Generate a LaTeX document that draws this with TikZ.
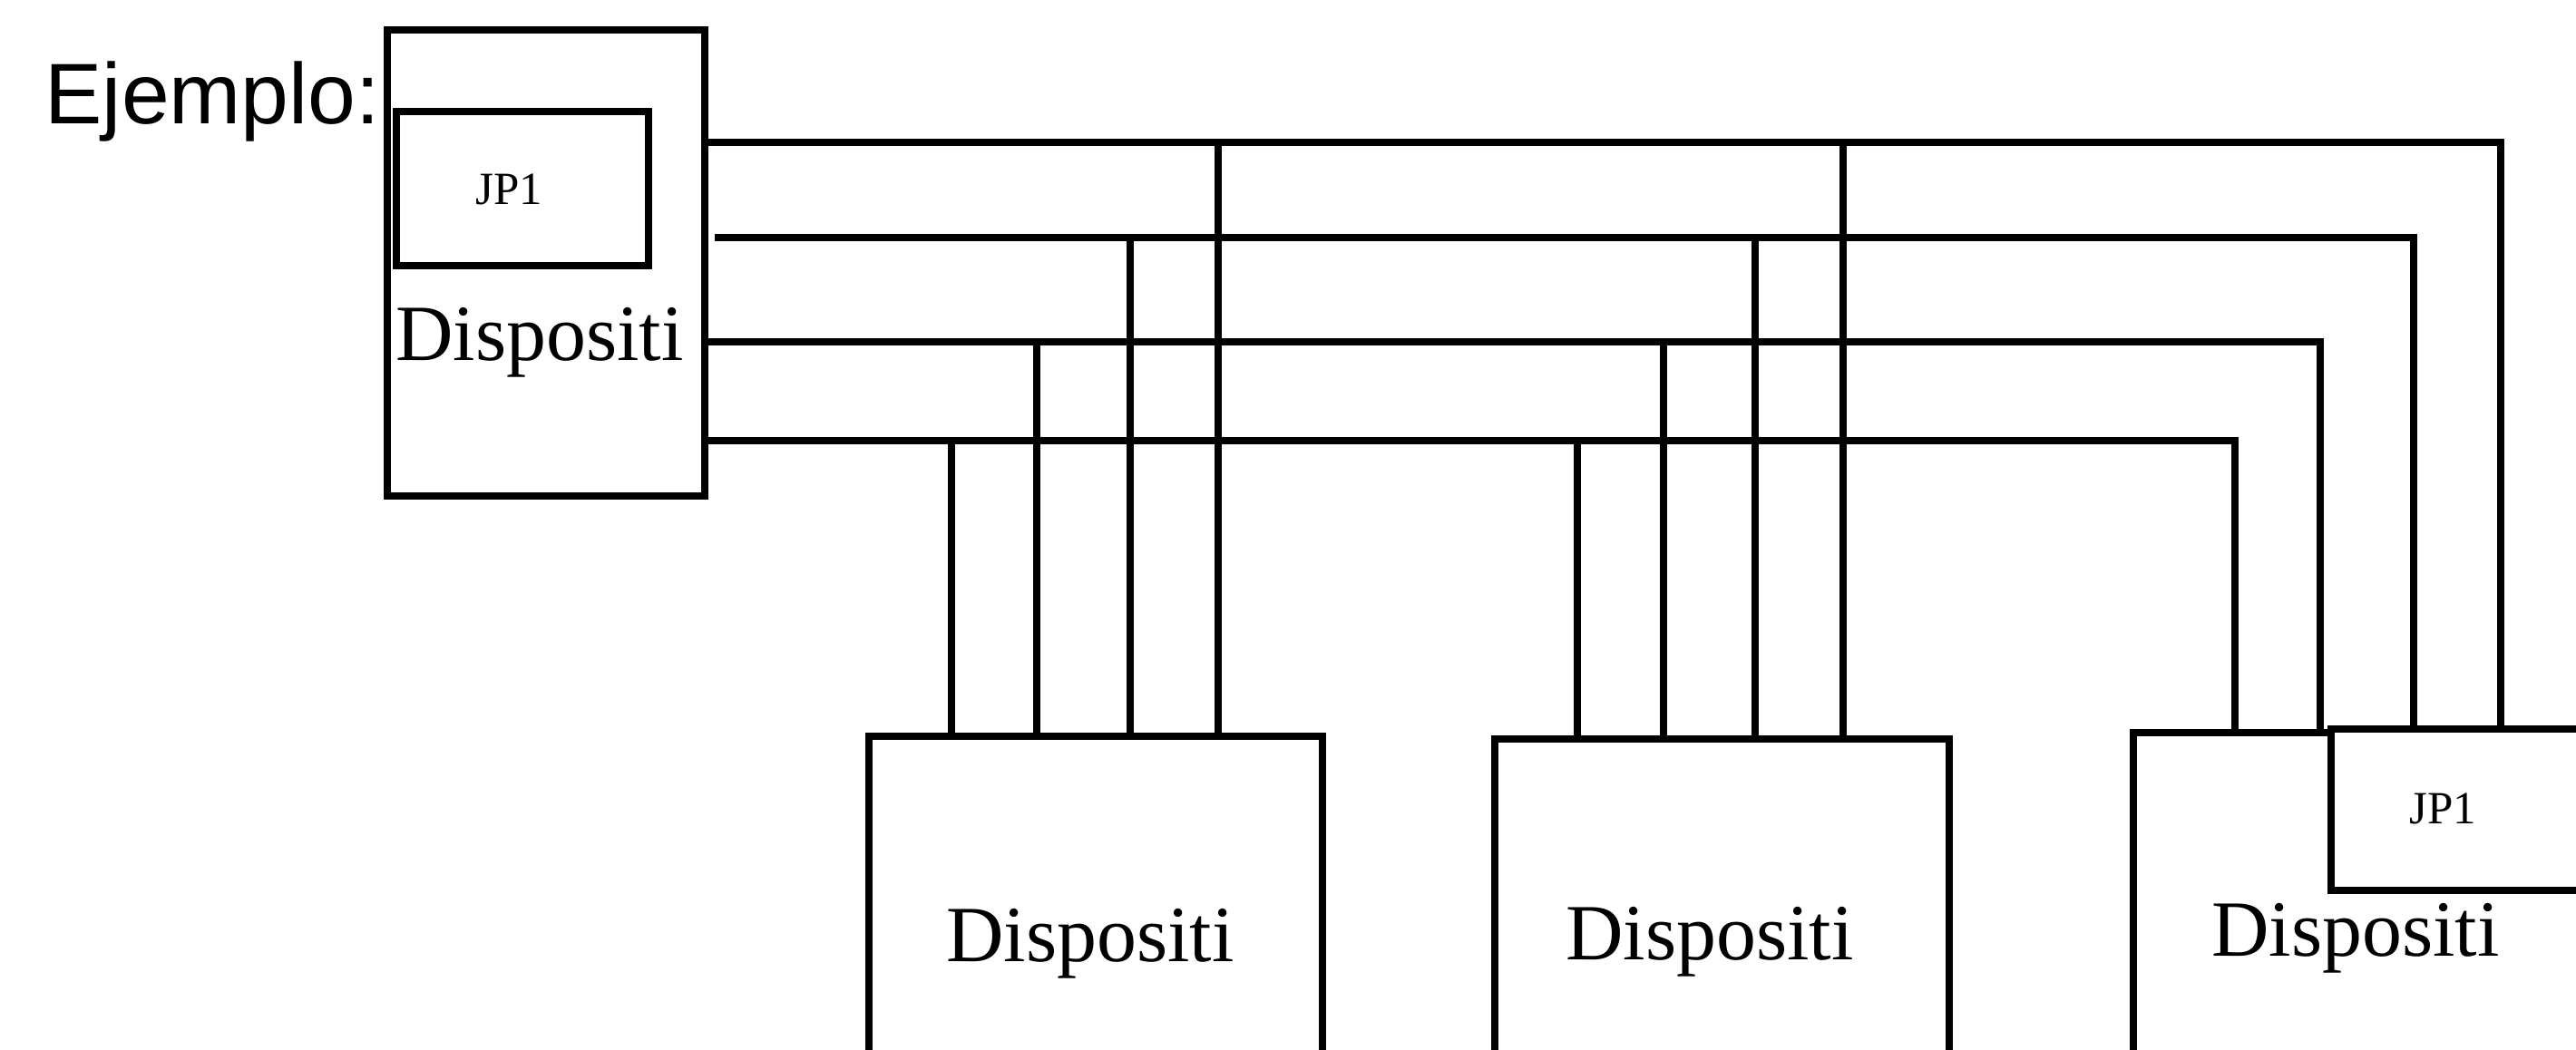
\documentclass[tikz,border=0pt]{standalone}
\usepackage{fontspec}
\setmainfont{Liberation Serif}
\newfontfamily\arialfont{Liberation Sans}

\begin{document}
\begin{tikzpicture}[
  box/.style = {draw, line width = 2.5pt, inner sep = 0pt, fill = white},
  wire/.style = {line width = 2.3pt},
  devtext/.style = {anchor = base, inner sep = 0pt, font = \fontsize{25}{30}\selectfont},
  jptext/.style = {anchor = base, inner sep = 0pt, font = \fontsize{14.5}{17}\selectfont}]
\useasboundingbox (0,0) rectangle (28.4,-11.57);
\clip (0,0) rectangle (28.4,-11.57);
\fill [white] (0,0) rectangle (28.4,-11.57);
\node [anchor = base west, inner sep = 0pt, font = \arialfont\fontsize{27}{32}\selectfont] (title) at (0.49,-1.36) {Ejemplo:};
% master device with its jumper
\node [box, minimum width = 3.5cm, minimum height = 5.14cm] (dev0) at (6.02,-2.90) {};
\node [box, minimum width = 2.78cm, minimum height = 1.70cm] (jp0) at (5.76,-2.08) {};
\node [jptext] (jplbl0) at (5.61,-2.25) {JP1};
\node [devtext] (lbl0) at (5.95,-3.97) {Dispositi};
% slave devices, cut by the page border
\node [box, minimum width = 5.0cm, minimum height = 4cm] (dev1) at (12.08,-10.12) {};
\node [box, minimum width = 5.01cm, minimum height = 4cm] (dev2) at (18.985,-10.15) {};
\node [box, minimum width = 5.0cm, minimum height = 4cm] (dev3) at (26.02,-10.08) {};
\node [box, minimum width = 3.0cm, minimum height = 1.78cm] (jp3) at (27.20,-8.93) {};
\node [devtext] (lbl1) at (12.02,-10.60) {Dispositi};
\node [devtext] (lbl2) at (18.85,-10.58) {Dispositi};
\node [devtext] (lbl3) at (25.97,-10.54) {Dispositi};
\node [jptext] (jplbl3) at (26.93,-9.08) {JP1};
% four bus lines
\coordinate (s2) at (7.88,-2.62);
\draw [wire] (dev0.east |- 0,-1.57) -| (jp3.north -| 27.57,0);
\draw [wire] (s2) -| (jp3.north -| 26.61,0);
\draw [wire] (dev0.east |- 0,-3.77) -| (dev3.north -| 25.58,0);
\draw [wire] (dev0.east |- 0,-4.86) -| (dev3.north -| 24.64,0);
% taps down to the devices
\draw [wire] (10.49,-4.86) -- (10.49,-4.86 |- dev1.north);
\draw [wire] (11.43,-3.77) -- (11.43,-3.77 |- dev1.north);
\draw [wire] (12.46,-2.62) -- (12.46,-2.62 |- dev1.north);
\draw [wire] (13.43,-1.57) -- (13.43,-1.57 |- dev1.north);
\draw [wire] (17.39,-4.86) -- (17.39,-4.86 |- dev2.north);
\draw [wire] (18.34,-3.77) -- (18.34,-3.77 |- dev2.north);
\draw [wire] (19.35,-2.62) -- (19.35,-2.62 |- dev2.north);
\draw [wire] (20.32,-1.57) -- (20.32,-1.57 |- dev2.north);
\end{tikzpicture}
\end{document}
